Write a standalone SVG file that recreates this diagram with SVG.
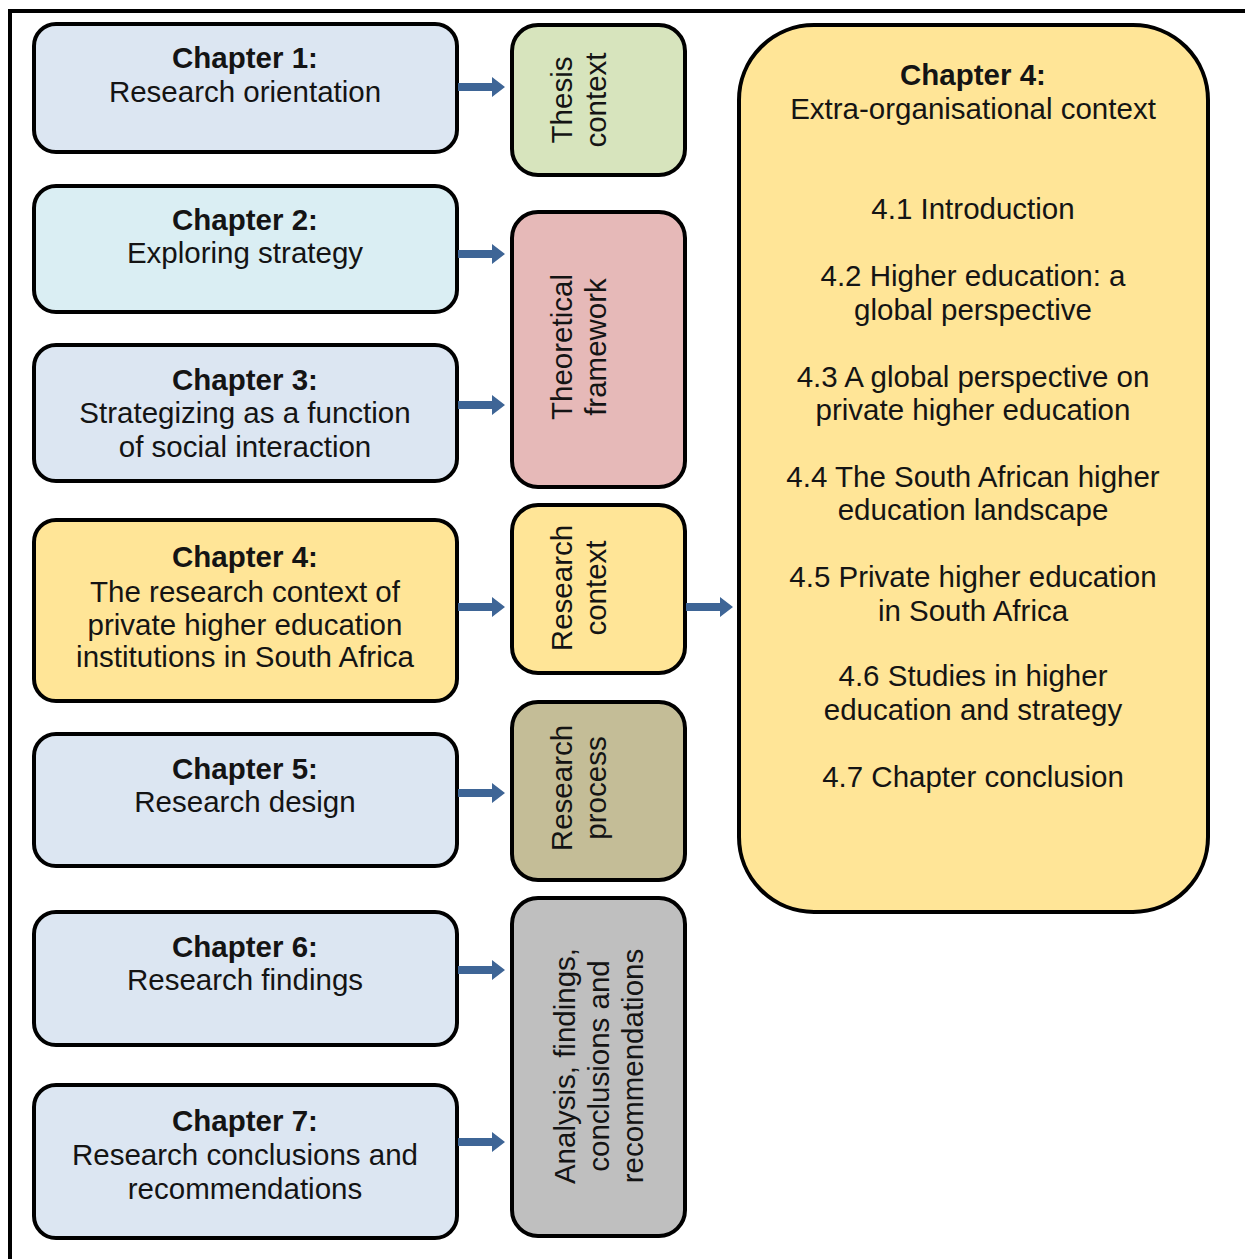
<svg xmlns="http://www.w3.org/2000/svg" width="1245" height="1259" viewBox="0 0 1245 1259">
  <style>
    text { font-family: "Liberation Sans", Arial, sans-serif; font-size: 29.5px; fill: #141414; text-anchor: middle; }
    .b { font-weight: bold; }
    .box { stroke: #000; stroke-width: 4; }
    .blue { fill: #DCE6F2; }
    .cyan { fill: #DAEEF3; }
    .gold { fill: #FFE597; }
    .green { fill: #D7E4BD; }
    .rose { fill: #E6B9B8; }
    .khaki { fill: #C4BD97; }
    .grey { fill: #BFBFBF; }
    .arrow { fill: #3E6596; }
  </style>
  <defs>
    <!-- block arrow pointing right, origin at the tail centre, 47 long -->
    <polygon id="arr" points="0,-4 34,-4 34,-10 47,0 34,10 34,4 0,4"/>
  </defs>

  <rect width="1245" height="1259" fill="#fff"/>
  <!-- page frame (only top and left edges fall inside the page) -->
  <path d="M10,1259 V11 H1245" fill="none" stroke="#000" stroke-width="4"/>

  <!-- chapter boxes -->
  <g id="ch1">
    <rect class="box blue" x="34" y="24" width="423" height="128" rx="22"/>
    <text class="b" x="245" y="68">Chapter 1:</text>
    <text x="245" y="102">Research orientation</text>
  </g>
  <g id="ch2">
    <rect class="box cyan" x="34" y="186" width="423" height="126" rx="22"/>
    <text class="b" x="245" y="230">Chapter 2:</text>
    <text x="245" y="263">Exploring strategy</text>
  </g>
  <g id="ch3">
    <rect class="box blue" x="34" y="345" width="423" height="136" rx="22"/>
    <text class="b" x="245" y="390">Chapter 3:</text>
    <text x="245" y="423">Strategizing as a function</text>
    <text x="245" y="457">of social interaction</text>
  </g>
  <g id="ch4">
    <rect class="box gold" x="34" y="520" width="423" height="181" rx="22"/>
    <text class="b" x="245" y="567">Chapter 4:</text>
    <text x="245" y="602">The research context of</text>
    <text x="245" y="635">private higher education</text>
    <text x="245" y="667">institutions in South Africa</text>
  </g>
  <g id="ch5">
    <rect class="box blue" x="34" y="734" width="423" height="132" rx="22"/>
    <text class="b" x="245" y="779">Chapter 5:</text>
    <text x="245" y="812">Research design</text>
  </g>
  <g id="ch6">
    <rect class="box blue" x="34" y="912" width="423" height="133" rx="22"/>
    <text class="b" x="245" y="957">Chapter 6:</text>
    <text x="245" y="990">Research findings</text>
  </g>
  <g id="ch7">
    <rect class="box blue" x="34" y="1085" width="423" height="153" rx="22"/>
    <text class="b" x="245" y="1131">Chapter 7:</text>
    <text x="245" y="1165">Research conclusions and</text>
    <text x="245" y="1199">recommendations</text>
  </g>

  <!-- thematic groupings, labels run bottom-to-top -->
  <g id="thesis-context">
    <rect class="box green" x="512" y="25" width="173" height="150" rx="26"/>
    <g transform="translate(0,100) rotate(-90)">
      <text x="0" y="572">Thesis</text>
      <text x="0" y="606">context</text>
    </g>
  </g>
  <g id="theoretical-framework">
    <rect class="box rose" x="512" y="212" width="173" height="275" rx="26"/>
    <g transform="translate(0,347) rotate(-90)">
      <text x="0" y="572">Theoretical</text>
      <text x="0" y="606">framework</text>
    </g>
  </g>
  <g id="research-context">
    <rect class="box gold" x="512" y="505" width="173" height="168" rx="26"/>
    <g transform="translate(0,588) rotate(-90)">
      <text x="0" y="572">Research</text>
      <text x="0" y="606">context</text>
    </g>
  </g>
  <g id="research-process">
    <rect class="box khaki" x="512" y="702" width="173" height="178" rx="26"/>
    <g transform="translate(0,788) rotate(-90)">
      <text x="0" y="572">Research</text>
      <text x="0" y="606">process</text>
    </g>
  </g>
  <g id="analysis">
    <rect class="box grey" x="512" y="898" width="173" height="338" rx="26"/>
    <g transform="translate(0,1066) rotate(-90)">
      <text x="0" y="575">Analysis, findings,</text>
      <text x="0" y="609">conclusions and</text>
      <text x="0" y="643">recommendations</text>
    </g>
  </g>

  <!-- chapter 4 outline -->
  <g id="ch4-outline">
    <rect class="box gold" x="739" y="25" width="469" height="887" rx="75"/>
    <text class="b" x="973" y="85">Chapter 4:</text>
    <text x="973" y="119">Extra-organisational context</text>
    <text x="973" y="219">4.1 Introduction</text>
    <text x="973" y="286">4.2 Higher education: a</text>
    <text x="973" y="320">global perspective</text>
    <text x="973" y="387">4.3 A global perspective on</text>
    <text x="973" y="420">private higher education</text>
    <text x="973" y="487">4.4 The South African higher</text>
    <text x="973" y="520">education landscape</text>
    <text x="973" y="587">4.5 Private higher education</text>
    <text x="973" y="621">in South Africa</text>
    <text x="973" y="686">4.6 Studies in higher</text>
    <text x="973" y="720">education and strategy</text>
    <text x="973" y="787">4.7 Chapter conclusion</text>
  </g>

  <!-- connectors -->
  <g id="connectors" class="arrow">
    <use href="#arr" x="458" y="87"/>
    <use href="#arr" x="458" y="254"/>
    <use href="#arr" x="458" y="405"/>
    <use href="#arr" x="458" y="607"/>
    <use href="#arr" x="458" y="793"/>
    <use href="#arr" x="458" y="970"/>
    <use href="#arr" x="458" y="1142"/>
    <use href="#arr" x="686" y="607"/>
  </g>
</svg>
